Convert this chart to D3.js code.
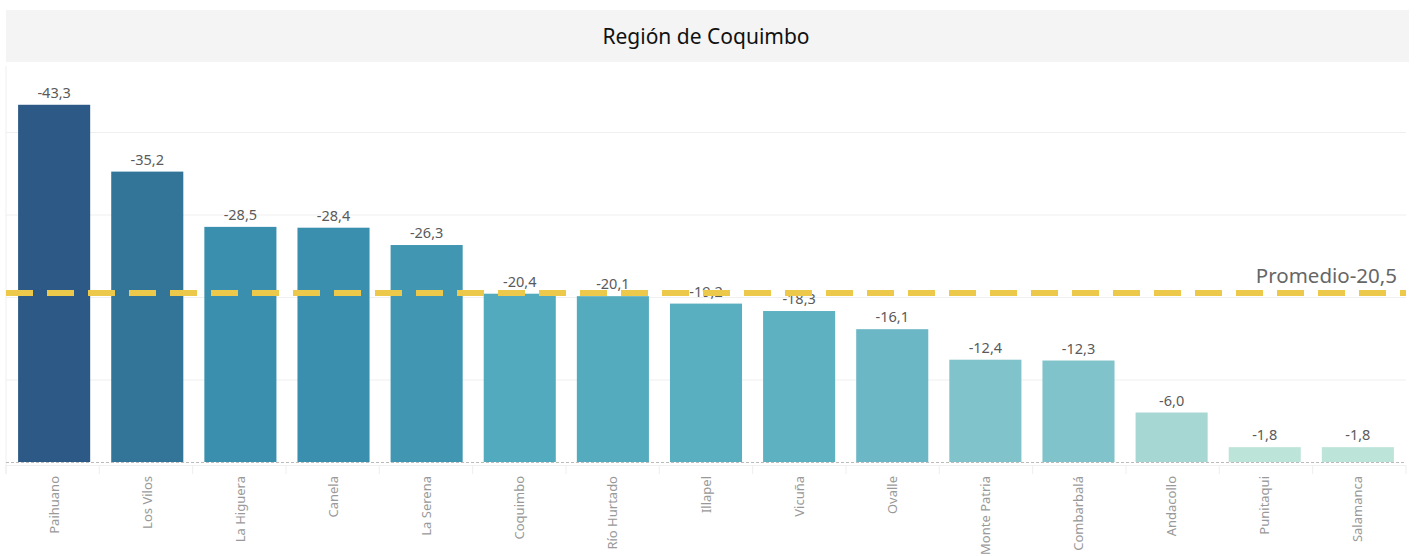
<!DOCTYPE html>
<html>
<head>
<meta charset="utf-8">
<title>Región de Coquimbo</title>
<script src="https://cdn.jsdelivr.net/npm/d3@7"></script>
<style>
    body { margin: 0; background: #fff; font-family: "Noto Sans", "Open Sans", sans-serif; }
    .grid line { stroke: #efefef; }
    .grid path { display: none; }
</style>
</head>
<body>
<svg width="1419" height="556"></svg>
<script>
    const comunas = ["Paihuano", "Los Vilos", "La Higuera", "Canela", "La Serena", "Coquimbo",
        "Río Hurtado", "Illapel", "Vicuña", "Ovalle", "Monte Patria", "Combarbalá",
        "Andacollo", "Punitaqui", "Salamanca"];
    const valores = [-43.3, -35.2, -28.5, -28.4, -26.3, -20.4, -20.1, -19.2, -18.3, -16.1,
        -12.4, -12.3, -6.0, -1.8, -1.8];
    const promedio = -20.5;
    const gridTicks = [-10, -20, -30, -40];

    const svg = d3.select("svg");
    const plotLeft = 6, plotRight = 1406, plotTop = 66, plotBottom = 462;

    const fmt = v => d3.format(".1f")(v).replace(".", ",").replace("−", "-");

    // title band
    svg.append("rect").attr("x", 6).attr("y", 10).attr("width", 1403).attr("height", 52).attr("fill", "#f4f4f4");
    svg.append("text").attr("x", 706).attr("y", 44).attr("text-anchor", "middle")
        .attr("font-size", 21).attr("fill", "#111").text("Región de Coquimbo");

    const x = d3.scaleBand().domain(comunas).range([plotLeft, plotRight]).paddingInner(0.226).paddingOuter(0.13);
    const y = d3.scaleLinear().domain([0, -48]).range([plotBottom, plotTop]);
    const color = d3.scaleLinear()
        .domain([-43.3, -35.2, -28.5, -20.4, -12.4, -6.0, -1.8])
        .range(["#2d5986", "#337599", "#3a8fae", "#52aabe", "#80c3cb", "#a6d7d3", "#bde4d9"]);

    // gridlines
    svg.append("g").attr("class", "grid")
        .attr("transform", `translate(${plotLeft},0)`)
        .call(d3.axisLeft(y).tickValues(gridTicks).tickSize(-(1406 - plotLeft)).tickFormat(""));
    svg.append("line").attr("x1", plotLeft).attr("x2", plotLeft).attr("y1", plotTop).attr("y2", 474).attr("stroke", "#efefef");

    // bars
    svg.selectAll(".bar").data(comunas).enter().append("rect")
        .attr("x", d => x(d))
        .attr("width", x.bandwidth())
        .attr("y", (d, i) => y(valores[i]))
        .attr("height", (d, i) => y(0) - y(valores[i]))
        .attr("fill", (d, i) => color(valores[i]));

    // value labels
    svg.selectAll(".val").data(comunas).enter().append("text")
        .attr("x", d => x(d) + x.bandwidth() / 2)
        .attr("y", (d, i) => y(valores[i]) - 7)
        .attr("text-anchor", "middle").attr("font-size", 14.5).attr("fill", "#5a5a5a")
        .text((d, i) => fmt(valores[i]));

    // zero line
    svg.append("line").attr("x1", plotLeft).attr("x2", 1406).attr("y1", y(0) + 0.5).attr("y2", y(0) + 0.5)
        .attr("stroke", "#bbb").attr("stroke-dasharray", "3,2");
    svg.append("line").attr("x1", plotLeft).attr("x2", 1406).attr("y1", 465.5).attr("y2", 465.5).attr("stroke", "#efefef");

    // category axis dividers
    svg.selectAll(".div").data(d3.range(comunas.length + 1)).enter().append("line")
        .attr("x1", i => plotLeft + i * (plotRight - plotLeft) / comunas.length)
        .attr("x2", i => plotLeft + i * (plotRight - plotLeft) / comunas.length)
        .attr("y1", 465).attr("y2", 474).attr("stroke", "#eee");

    svg.selectAll(".cat").data(comunas).enter().append("text")
        .attr("transform", d => `translate(${x(d) + x.bandwidth() / 2 + 4.5},476) rotate(-90)`)
        .attr("text-anchor", "end").attr("font-size", 13).attr("fill", "#999")
        .text(d => d);

    // average line
    svg.append("line").attr("x1", plotLeft).attr("x2", 1406).attr("y1", y(promedio)).attr("y2", y(promedio))
        .attr("stroke", "#ecc94b").attr("stroke-width", 6).attr("stroke-dasharray", "27,14");
    svg.append("text").attr("x", 1397).attr("y", 283).attr("text-anchor", "end")
        .attr("font-size", 20.5).attr("fill", "#666").text("Promedio" + fmt(promedio));
</script>
</body>
</html>
